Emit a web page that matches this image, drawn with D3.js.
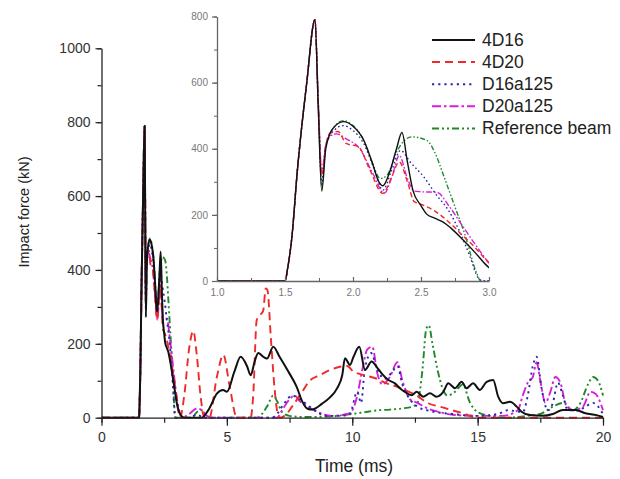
<!DOCTYPE html>
<html>
<head>
<meta charset="utf-8">
<script src="https://cdn.jsdelivr.net/npm/d3@7"></script>
<style>
  body { margin: 0; background: #fff; }
  svg { display: block; }
  text { font-family: "Liberation Sans", Arial, Helvetica, sans-serif; }
</style>
</head>
<body>
<svg id="chart" width="620" height="479"></svg>
<script>
// Impact force histories, [time (ms), force (kN)]
const seriesNames = ["4D16", "4D20", "D16a125", "D20a125", "Reference beam"];

const force4D16 = [[0,0],[1.5,0],[1.52,40],[1.55,130],[1.59,330],[1.66,600],[1.72,790],[1.745,520],[1.77,272],[1.80,400],[1.85,460],[1.93,482],[2.0,468],[2.08,425],[2.14,360],[2.19,300],[2.22,288],[2.27,330],[2.32,400],[2.36,449],[2.40,360],[2.44,275],[2.50,228],[2.54,203],[2.6,190],[2.66,179],[2.72,160],[2.81,124],[2.9,85],[2.98,48],[3.05,25],[3.15,8],[3.3,0],[4.0,0],[4.3,25],[4.6,65],[4.85,75],[5.0,70],[5.3,125],[5.55,165],[5.8,140],[5.95,115],[6.1,150],[6.25,175],[6.45,165],[6.6,160],[6.85,192],[7.1,165],[7.45,125],[7.78,84],[8.0,45],[8.2,25],[8.4,22],[8.8,38],[9.11,55],[9.4,80],[9.6,115],[9.71,161],[9.91,143],[10.05,165],[10.28,192],[10.51,129],[10.77,152],[11.0,135],[11.17,120],[11.44,102],[11.70,93],[11.90,80],[12.10,70],[12.37,61],[12.57,70],[12.83,57],[13.10,66],[13.36,57],[13.63,70],[13.83,93],[14.10,80],[14.36,97],[14.56,80],[14.82,93],[15.09,75],[15.36,97],[15.62,102],[15.82,57],[16.02,39],[16.29,43],[16.56,30],[16.75,16],[17.09,7],[17.6,5],[18.0,10],[18.4,21],[18.9,21],[19.3,12],[19.74,7],[20,2]];

const force4D20 = [[0,0],[1.5,0],[1.52,40],[1.55,130],[1.59,330],[1.66,600],[1.72,790],[1.745,540],[1.77,320],[1.80,410],[1.83,447],[1.89,452],[1.95,416],[2.04,406],[2.12,340],[2.22,265],[2.28,310],[2.34,360],[2.40,300],[2.45,240],[2.5,232],[2.6,212],[2.7,180],[2.8,140],[2.9,100],[2.96,72],[3.02,45],[3.08,12],[3.13,0],[3.3,60],[3.5,190],[3.66,235],[3.8,170],[3.95,60],[4.1,0],[4.3,0],[4.6,110],[4.86,170],[5.1,90],[5.4,0],[5.95,0],[6.05,60],[6.19,264],[6.35,280],[6.45,290],[6.55,350],[6.62,345],[6.75,220],[6.9,80],[7.0,20],[7.1,0],[7.3,5],[7.6,30],[8.0,70],[8.3,100],[8.7,115],[9.11,129],[9.51,138],[9.8,140],[10.04,125],[10.5,115],[11.0,105],[11.4,92],[11.77,84],[12.2,72],[12.57,60],[13.0,40],[13.5,30],[14.0,20],[14.5,10],[14.96,0],[20,0]];

const forceD16a125 = [[0,0],[1.5,0],[1.52,40],[1.55,130],[1.59,330],[1.66,600],[1.72,790],[1.745,530],[1.77,300],[1.80,410],[1.86,455],[1.93,470],[2.0,455],[2.08,415],[2.15,345],[2.22,275],[2.28,330],[2.35,395],[2.42,360],[2.52,315],[2.61,262],[2.70,215],[2.79,144],[2.86,74],[2.92,10],[2.96,0],[3.5,0],[3.8,8],[4.1,0],[6.8,0],[7.0,10],[7.3,40],[7.6,60],[7.9,50],[8.3,30],[8.6,15],[9.0,5],[9.5,5],[9.9,10],[10.2,70],[10.35,40],[10.5,130],[10.75,175],[11.0,130],[11.3,105],[11.6,125],[11.8,140],[12.0,90],[12.3,50],[12.6,30],[13.0,20],[14.0,10],[15.0,5],[15.8,10],[16.2,20],[16.5,18],[16.8,15],[17.0,60],[17.2,140],[17.35,165],[17.55,80],[17.8,20],[18.0,40],[18.2,95],[18.4,60],[18.6,20],[19.0,20],[19.3,30],[19.6,40],[20,10]];

const forceD20a125 = [[0,0],[1.5,0],[1.52,40],[1.55,130],[1.59,330],[1.66,600],[1.72,790],[1.745,540],[1.77,330],[1.80,410],[1.84,440],[1.88,445],[1.95,430],[2.05,400],[2.14,330],[2.23,266],[2.29,320],[2.34,380],[2.40,310],[2.45,272],[2.5,270],[2.62,268],[2.70,230],[2.8,170],[2.9,110],[3.0,55],[3.1,20],[3.2,0],[3.5,10],[3.8,25],[4.0,20],[4.2,5],[4.4,0],[7.0,0],[7.2,20],[7.5,50],[7.7,60],[7.9,45],[8.2,30],[8.5,20],[8.8,10],[9.2,5],[9.8,10],[10.0,20],[10.2,60],[10.4,130],[10.6,185],[10.8,192],[11.0,120],[11.2,90],[11.5,110],[11.8,150],[12.0,100],[12.3,50],[12.6,40],[13.0,25],[13.5,15],[14.0,8],[15.0,5],[16.0,5],[16.6,20],[16.8,60],[17.0,95],[17.2,110],[17.35,150],[17.5,100],[17.7,40],[17.9,70],[18.1,110],[18.3,95],[18.5,40],[18.8,20],[19.2,30],[19.5,70],[19.7,65],[19.9,40],[20,20]];

const forceReference = [[0,0],[1.5,0],[1.52,40],[1.55,130],[1.59,330],[1.66,600],[1.72,790],[1.745,525],[1.77,290],[1.80,410],[1.86,465],[1.93,485],[2.0,470],[2.08,425],[2.14,360],[2.2,310],[2.25,320],[2.32,390],[2.43,436],[2.54,426],[2.615,376],[2.66,326],[2.74,235],[2.82,144],[2.91,23],[2.94,0],[3.6,0],[3.8,15],[4.0,20],[4.2,5],[4.4,0],[6.2,0],[6.4,10],[6.6,30],[6.85,60],[7.0,45],[7.2,15],[7.5,5],[8.0,2],[9.0,3],[10.0,10],[10.5,15],[11.0,20],[11.5,22],[12.0,25],[12.4,30],[12.6,40],[12.8,130],[12.95,240],[13.05,250],[13.2,200],[13.4,130],[13.6,80],[13.8,60],[14.1,70],[14.4,90],[14.7,40],[15.0,15],[15.5,5],[16.0,0],[17.0,5],[17.5,10],[18.0,30],[18.4,40],[18.8,20],[19.1,40],[19.4,90],[19.6,110],[19.8,100],[20,60]];

const mainXTicks = [0, 5, 10, 15, 20];
const mainYTicks = [0, 200, 400, 600, 800, 1000];
const insetXTicks = [1.0, 1.5, 2.0, 2.5, 3.0];
const insetYTicks = [0, 200, 400, 600, 800];

const seriesData = [force4D16, force4D20, forceD16a125, forceD20a125, forceReference];
const seriesColors = ["#111111", "#ee2a2a", "#2a2aa8", "#d81fd8", "#1f8a2a"];
const seriesDash = ["none", "8,5", "2.2,4", "9,3,2.5,3", "7,3,2,3,2,3"];
const insetDash = ["none", "5,3", "1.6,2.6", "6,2,1.6,2", "5,2,1.5,2,1.5,2"];

const svg = d3.select("#chart");

// ---------- main plot ----------
const x = d3.scaleLinear().domain([0, 20]).range([101.5, 603]);
const y = d3.scaleLinear().domain([0, 1000]).range([417.7, 48.3]);

const mainClip = svg.append("clipPath").attr("id", "mainClip")
  .append("rect").attr("x", x(0)).attr("y", 0).attr("width", x(20) - x(0) + 1).attr("height", y(0) + 1);

const line = d3.line().x(d => x(d[0])).y(d => y(d[1])).curve(d3.curveMonotoneX);

const mainG = svg.append("g").attr("clip-path", "url(#mainClip)");
for (let i = seriesData.length - 1; i >= 0; i--) {
  mainG.append("path")
    .attr("d", line(seriesData[i]))
    .attr("fill", "none")
    .attr("stroke", seriesColors[i])
    .attr("stroke-width", i === 0 ? 2 : 1.9)
    .attr("stroke-dasharray", seriesDash[i])
    .attr("stroke-linejoin", "round");
}

function styleAxis(g, color, fontSize) {
  g.selectAll("path.domain").attr("stroke", color).attr("stroke-width", 1.3);
  g.selectAll(".tick line").attr("stroke", color).attr("stroke-width", 1.2);
  g.selectAll(".tick text").attr("fill", color === "#222" ? "#333" : "#777")
    .style("font-size", fontSize + "px").attr("font-family", null);
}

// minor ticks
svg.append("g").attr("transform", `translate(0,${y(0)})`)
  .call(d3.axisBottom(x).tickValues(d3.range(0, 20.01, 2.5)).tickSize(5).tickSizeOuter(0).tickFormat(""))
  .call(g => { g.select(".domain").remove(); g.selectAll(".tick line").attr("stroke", "#222").attr("stroke-width", 1.2); });
svg.append("g").attr("transform", `translate(${x(0)},0)`)
  .call(d3.axisLeft(y).tickValues(d3.range(0, 1001, 100)).tickSize(4).tickSizeOuter(0).tickFormat(""))
  .call(g => { g.select(".domain").remove(); g.selectAll(".tick line").attr("stroke", "#222").attr("stroke-width", 1.2); });

svg.append("g").attr("transform", `translate(0,${y(0)})`)
  .call(d3.axisBottom(x).tickValues(mainXTicks).tickSize(8).tickPadding(6).tickSizeOuter(0).tickFormat(d3.format("d")))
  .call(g => styleAxis(g, "#222", 14));
svg.append("g").attr("transform", `translate(${x(0)},0)`)
  .call(d3.axisLeft(y).tickValues(mainYTicks).tickSize(6).tickPadding(5).tickSizeOuter(0).tickFormat(d3.format("d")))
  .call(g => styleAxis(g, "#222", 14));

svg.append("text")
  .attr("x", 354).attr("y", 472)
  .attr("text-anchor", "middle")
  .attr("fill", "#222")
  .style("font-size", "17.5px")
  .text("Time (ms)");

svg.append("text")
  .attr("transform", "translate(29,212) rotate(-90)")
  .attr("text-anchor", "middle")
  .attr("fill", "#222")
  .style("font-size", "14.5px")
  .text("Impact force (kN)");

// ---------- inset ----------
const xi = d3.scaleLinear().domain([1, 3]).range([217, 489]);
const yi = d3.scaleLinear().domain([0, 800]).range([281, 16.5]);

svg.append("clipPath").attr("id", "insetClip")
  .append("rect").attr("x", xi(1)).attr("y", yi(800) - 2).attr("width", xi(3) - xi(1)).attr("height", yi(0) - yi(800) + 2);

const insetLine = d3.line().x(d => xi(d[0])).y(d => yi(d[1])).curve(d3.curveMonotoneX);
const insetG = svg.append("g").attr("clip-path", "url(#insetClip)");
for (let i = seriesData.length - 1; i >= 0; i--) {
  insetG.append("path")
    .attr("d", insetLine(seriesData[i]))
    .attr("fill", "none")
    .attr("stroke", seriesColors[i])
    .attr("stroke-width", 1.4)
    .attr("stroke-dasharray", insetDash[i])
    .attr("stroke-linejoin", "round");
}

svg.append("g").attr("transform", `translate(0,${yi(0)})`)
  .call(d3.axisBottom(xi).tickValues(d3.range(1, 3.01, 0.25)).tickSize(-3).tickSizeOuter(0).tickFormat(""))
  .call(g => { g.select(".domain").remove(); g.selectAll(".tick line").attr("stroke", "#666"); });
svg.append("g").attr("transform", `translate(${xi(1)},0)`)
  .call(d3.axisLeft(yi).tickValues(d3.range(0, 801, 100)).tickSize(3).tickSizeOuter(0).tickFormat(""))
  .call(g => { g.select(".domain").remove(); g.selectAll(".tick line").attr("stroke", "#666"); });

svg.append("g").attr("transform", `translate(0,${yi(0)})`)
  .call(d3.axisBottom(xi).tickValues(insetXTicks).tickSize(-4).tickPadding(8).tickSizeOuter(0).tickFormat(d3.format(".1f")))
  .call(g => styleAxis(g, "#666", 10));
svg.append("g").attr("transform", `translate(${xi(1)},0)`)
  .call(d3.axisLeft(yi).tickValues(insetYTicks).tickSize(5).tickPadding(4).tickSizeOuter(0).tickFormat(d3.format("d")))
  .call(g => styleAxis(g, "#666", 10));

// ---------- legend ----------
const legend = svg.append("g");
seriesNames.forEach((name, i) => {
  const cy = 40 + i * 22.1;
  legend.append("line")
    .attr("x1", 432).attr("x2", 475).attr("y1", cy).attr("y2", cy)
    .attr("stroke", seriesColors[i])
    .attr("stroke-width", 2)
    .attr("stroke-dasharray", seriesDash[i]);
  legend.append("text")
    .attr("x", 482).attr("y", cy + 6)
    .attr("fill", "#222")
    .style("font-size", "17.5px")
    .text(name);
});
</script>
</body>
</html>
